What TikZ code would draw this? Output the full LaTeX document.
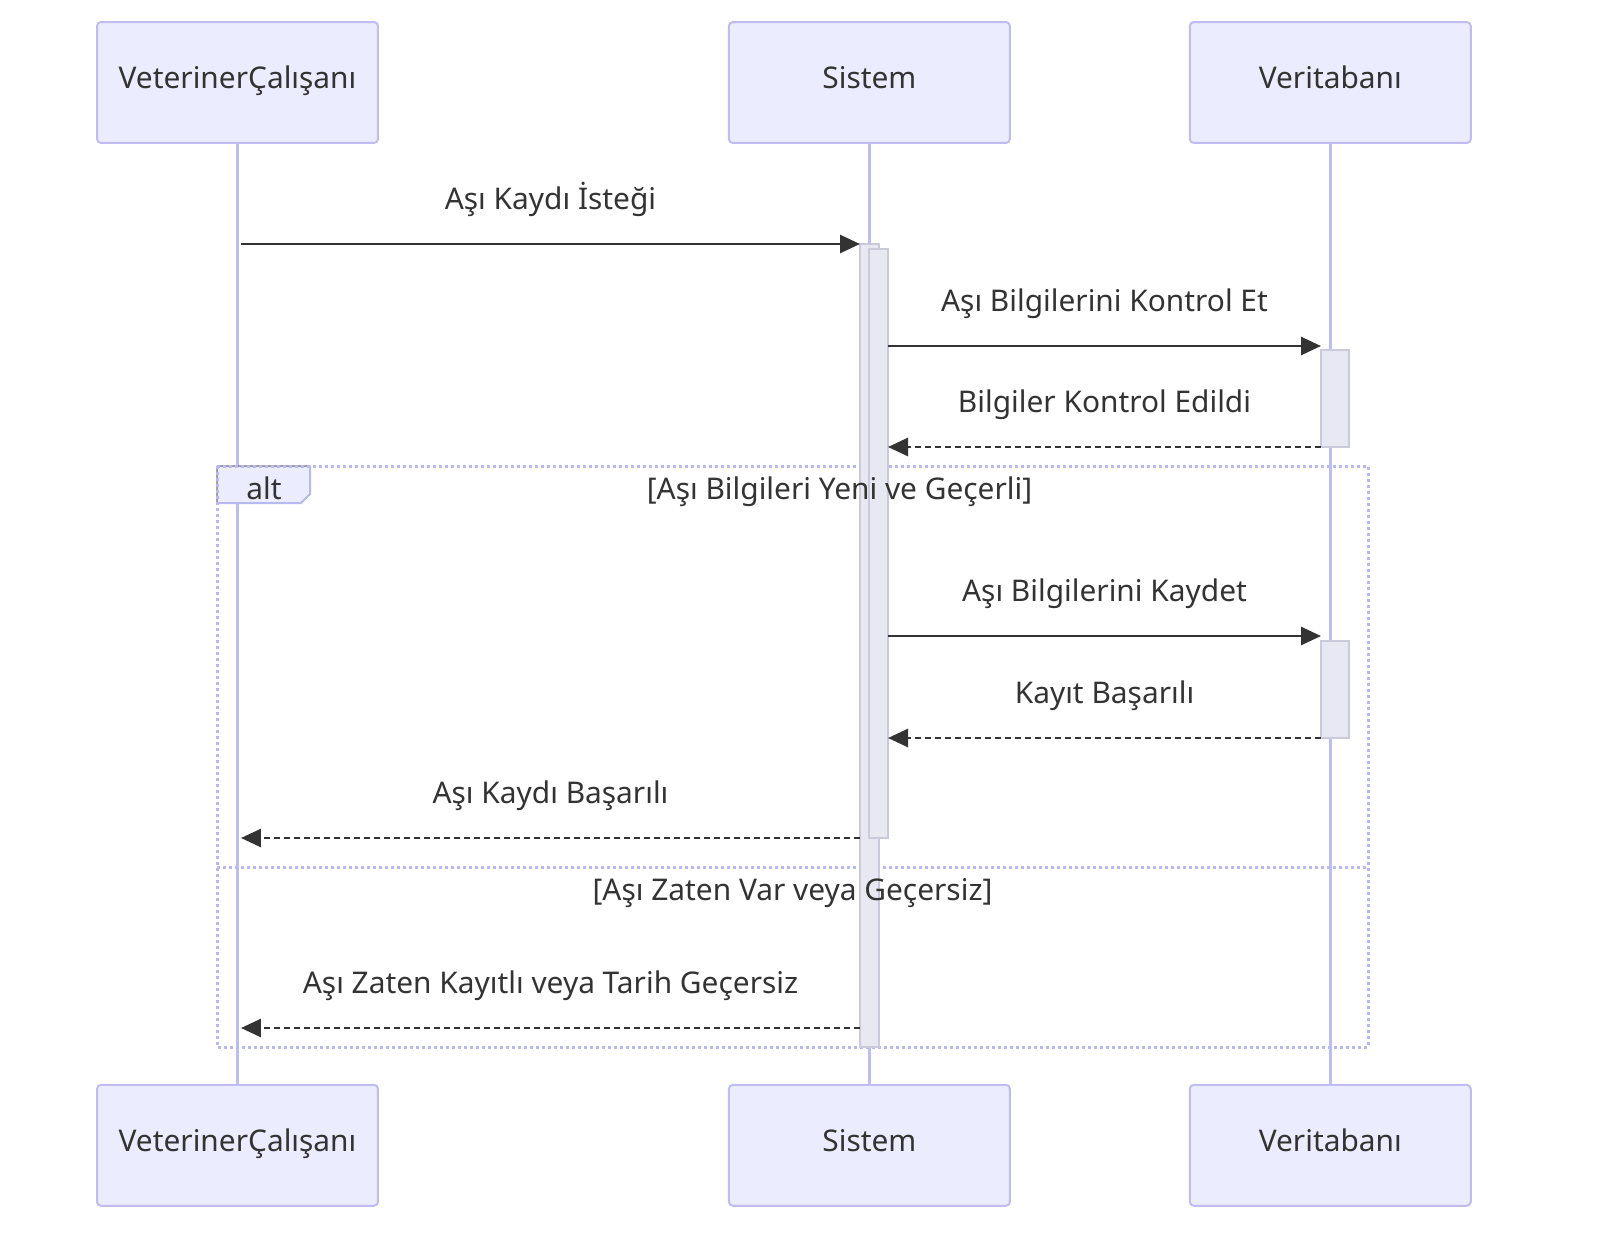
\documentclass[tikz,border=0pt]{standalone}
\usepackage{fontspec}
\setmainfont{Noto Sans}
\usetikzlibrary{arrows.meta}
\definecolor{actfill}{HTML}{ECECFF}
\definecolor{actline}{RGB}{192,188,240}
\definecolor{lifeln}{RGB}{190,188,245}
\definecolor{frameln}{RGB}{184,184,242}
\definecolor{barfill}{RGB}{232,232,242}
\definecolor{barline}{RGB}{202,202,218}
\definecolor{txt}{HTML}{333333}
\tikzset{
  actor/.style={draw=actline, fill=actfill, line width=0.04cm, rounded corners=0.08cm,
    minimum width=5.62cm, minimum height=2.42cm, text=txt, text height=0.714em, text depth=0pt},
  life/.style={draw=lifeln, line width=0.06cm},
  bar/.style={draw=barline, fill=barfill, line width=0.03cm, inner sep=0, outer sep=0},
  msg/.style={draw=txt, line width=0.055cm, -{Triangle[length=0.4cm,width=0.36cm]}},
  reply/.style={msg, dash pattern=on 0.12cm off 0.08cm},
  lbl/.style={anchor=base, yshift=0.69cm, text=txt},
  cond/.style={anchor=base, text=txt},
  frame/.style={draw=frameln, line width=0.06cm, dash pattern=on 0.06cm off 0.06cm},
  tab/.style={fill=actfill},
  tabline/.style={draw=frameln, line width=0.04cm}
}

\begin{document}
\begin{tikzpicture}[x=0.02cm, y=-0.02cm, font=\fontsize{17}{20}\selectfont]
\useasboundingbox (0,0) rectangle (1600,1254);
\node  (vc)[actor] at (237.5,82.5) {VeterinerÇalışanı};
\node  (si)[actor] [right of = vc, node distance=12.64cm] {Sistem};
\node  (vt)[actor] [right of = si, node distance=9.22cm] {Veritabanı};
\node  (vcb)[actor] [below of = vc, node distance=21.26cm] {VeterinerÇalışanı};
\node  (sib)[actor] [below of = si, node distance=21.26cm] {Sistem};
\node  (vtb)[actor] [below of = vt, node distance=21.26cm] {Veritabanı};
\draw[life] (vc) -- (vcb);
\draw[life] (si) -- (sib);
\draw[life] (vt) -- (vtb);

\coordinate (r1) at (241,244);
\coordinate (r2) at (0,346);
\coordinate (r3) at (0,447);
\coordinate (r5) at (0,636);
\coordinate (r6) at (0,738);
\coordinate (r7) at (241,838);
\coordinate (r9) at (241,1028);

\draw[tab] (217,466) -- (310,466) -- (310,494) -- (301,503) -- (217,503) -- cycle;
\draw[tabline] (310,466) -- (310,494) -- (301,503) -- (217,503);
\draw[frame] (217,466) rectangle (1368,1047);
\draw[frame] (217,867) -- (1368,867);

\node  (sb1)[bar, minimum width=0.38cm, minimum height=16.06cm] at (869.5,645.5) {};
\node  (sb2)[bar, minimum width=0.38cm, minimum height=11.78cm] at (878.5,543.5) {};
\node  (va1)[bar, minimum width=0.56cm, minimum height=1.94cm] at (1335,398.5) {};
\node  (va2)[bar, minimum width=0.56cm, minimum height=1.94cm] at (1335,689.5) {};

\draw[msg] (r1) -- node[lbl, midway] {Aşı Kaydı İsteği} (sb1.west |- r1);
\draw[msg] (sb2.east |- r2) -- node[lbl, midway] {Aşı Bilgilerini Kontrol Et} (va1.west |- r2);
\draw[reply] (va1.west |- r3) -- node[lbl, midway] {Bilgiler Kontrol Edildi} (sb2.east |- r3);
\draw[msg] (sb2.east |- r5) -- node[lbl, midway] {Aşı Bilgilerini Kaydet} (va2.west |- r5);
\draw[reply] (va2.west |- r6) -- node[lbl, midway] {Kayıt Başarılı} (sb2.east |- r6);
\draw[reply] (sb1.west |- r7) -- node[lbl, midway] {Aşı Kaydı Başarılı} (r7);
\draw[reply] (sb1.west |- r9) -- node[lbl, midway] {Aşı Zaten Kayıtlı veya Tarih Geçersiz} (r9);

\node  (alt)[cond] at (264,499) {alt};
\node  (c1)[cond] at (839.5,499.5) {[Aşı Bilgileri Yeni ve Geçerli]};
\node  (c2)[cond] at (792.5,900.5) {[Aşı Zaten Var veya Geçersiz]};
\end{tikzpicture}
\end{document}
